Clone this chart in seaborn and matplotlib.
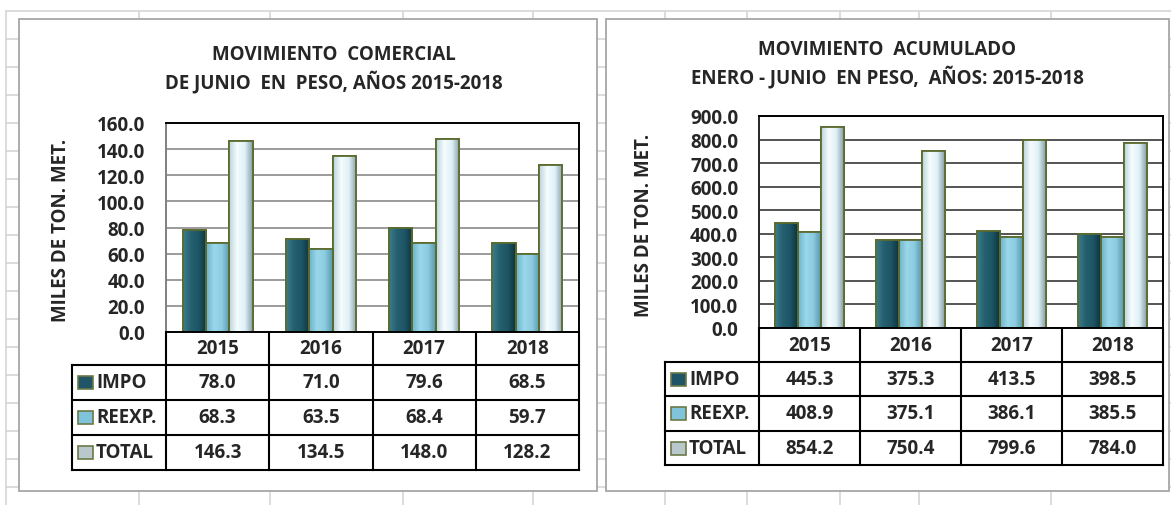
import numpy as np
import pandas as pd
import matplotlib.pyplot as plt
import seaborn as sns
from matplotlib.patches import Rectangle
from matplotlib.colors import LinearSegmentedColormap

# Datos
anios = ["2015", "2016", "2017", "2018"]
series = ["IMPO", "REEXP.", "TOTAL"]

junio_impo = [78.0, 71.0, 79.6, 68.5]
junio_reexp = [68.3, 63.5, 68.4, 59.7]
junio_total = [146.3, 134.5, 148.0, 128.2]

acum_impo = [445.3, 375.3, 413.5, 398.5]
acum_reexp = [408.9, 375.1, 386.1, 385.5]
acum_total = [854.2, 750.4, 799.6, 784.0]

# Estilo
sns.set_style("white")
plt.rcParams["font.family"] = ["Open Sans", "DejaVu Sans"]
plt.rcParams["font.weight"] = "bold"
FS = 13.5

W, H = 1171, 506
OLIVA = "#5b6b2f"
colores = {"IMPO": "#215a69", "REEXP.": "#8fd0e6", "TOTAL": "#e6f4f8"}
gradientes = {
    "IMPO": ["#3c7c8c", "#25606f", "#1d5565", "#0e333d"],
    "REEXP.": ["#6cb2c8", "#9ad7ea", "#8ccbe0", "#5798ad"],
    "TOTAL": ["#b9d3db", "#f6fcfe", "#dff1f7", "#869ea7"],
}
claves = {"IMPO": "#1f5566", "REEXP.": "#7fc4da", "TOTAL": "#b8c8cc"}

fig = plt.figure(figsize=(W / 100, H / 100), dpi=100)

# fondo tipo hoja de calculo
bg = fig.add_axes([0, 0, 1, 1])
bg.set_xlim(0, W)
bg.set_ylim(H, 0)
bg.axis("off")
for y in np.arange(12, H, 28):
    bg.plot([6, W], [y, y], color="#d6d6d6", lw=1.2, zorder=0)
for x in [6, 139, 270, 403, 533, 665, 747, 840, 919, 1051]:
    bg.plot([x, x], [12, H], color="#d6d6d6", lw=1.2, zorder=0)
for x0, x1 in [(19, 597), (606, 1169)]:
    bg.add_patch(Rectangle((x0, 20), x1 - x0, 472, facecolor="white",
                           edgecolor="#a6a6a6", lw=1.3, zorder=1))


def px_axes(left, top, right, bottom):
    return fig.add_axes([left / W, 1 - bottom / H, (right - left) / W, (bottom - top) / H])


def texto(x, y, s, **kw):
    return bg.text(x, y, s, fontsize=FS, fontweight="bold", zorder=4, **kw)


def panel(valores, titulo1, titulo2, tit_x, tit_y, ylab_x, box, ymax, paso, grid_color, lineas):
    lab_left, left, top, right, bottom = box
    df = pd.DataFrame({
        "anio": anios * 3,
        "serie": [s for s in series for _ in anios],
        "valor": valores[0] + valores[1] + valores[2],
    })
    ax = px_axes(left, top, right, bottom)
    sns.barplot(data=df, x="anio", y="valor", hue="serie", hue_order=series,
                palette=colores, width=0.68, saturation=1, legend=False,
                edgecolor=OLIVA, linewidth=1.2, ax=ax)

    # sombreado tipo bisel
    for cont, s in zip(ax.containers, series):
        cmap = LinearSegmentedColormap.from_list(s, gradientes[s])
        for p in cont:
            x, w, h = p.get_x(), p.get_width(), p.get_height()
            im = ax.imshow(np.linspace(0, 1, 64).reshape(1, -1), cmap=cmap,
                           extent=[x, x + w, 0, h], aspect="auto", zorder=2.1)
            im.set_clip_path(p)
            ax.add_patch(Rectangle((x, 0), w, h, fill=False, edgecolor=OLIVA,
                                   lw=1.3, zorder=2.2))

    ax.set_xlim(-0.5, len(anios) - 0.5)
    ax.set_ylim(0, ymax)
    ax.set_yticks(np.arange(0, ymax + 1, paso))
    ax.yaxis.set_major_formatter(plt.FuncFormatter(lambda v, _: f"{v:.1f}"))
    ax.tick_params(axis="y", length=0, pad=15, labelsize=FS)
    for lab in ax.get_yticklabels():
        lab.set_fontweight("bold")
    ax.set_xticks([])
    ax.set_xlabel("")
    ax.set_ylabel("")
    ax.yaxis.grid(True, color=grid_color, lw=1.1)
    ax.set_axisbelow(True)
    for sp in ax.spines.values():
        sp.set_color("black")
        sp.set_linewidth(1.4)
    ax.spines["left"].set_color(grid_color)

    # titulos
    texto(tit_x, tit_y, titulo1, ha="center", va="center")
    texto(tit_x, tit_y + 27, titulo2, ha="center", va="center")
    texto(ylab_x, (top + bottom) / 2 + 2, "MILES DE TON. MET.", rotation=90,
          ha="center", va="center")

    # tabla de datos
    bordes = np.linspace(left, right, len(anios) + 1)
    kw = dict(color="black", lw=1.5, zorder=3, solid_capstyle="projecting")
    y_head, y_fin = lineas[1], lineas[-1]
    for x in bordes:
        bg.plot([x, x], [lineas[0], y_fin], **kw)
    bg.plot([lab_left, lab_left], [y_head, y_fin], **kw)
    for y in lineas[1:]:
        bg.plot([lab_left, right], [y, y], **kw)
    for i, a in enumerate(anios):
        xc = (bordes[i] + bordes[i + 1]) / 2
        texto(xc, (lineas[0] + lineas[1]) / 2, a, ha="center", va="center")
        for j, s in enumerate(series):
            yc = (lineas[j + 1] + lineas[j + 2]) / 2
            texto(xc, yc, f"{valores[j][i]:.1f}", ha="center", va="center")
    for j, s in enumerate(series):
        yc = (lineas[j + 1] + lineas[j + 2]) / 2
        bg.add_patch(Rectangle((lab_left + 6, yc - 6.5), 15, 13,
                               facecolor=claves[s], edgecolor="#6b7a45",
                               lw=1.2, zorder=4))
        texto(lab_left + 24, yc, s, ha="left", va="center")
    return ax


panel([junio_impo, junio_reexp, junio_total],
      "MOVIMIENTO  COMERCIAL", "DE JUNIO  EN  PESO, AÑOS 2015-2018",
      334, 55, 61, (72, 166, 124, 579, 333), 160, 20, "#808080",
      [333, 366, 401, 436, 471])

panel([acum_impo, acum_reexp, acum_total],
      "MOVIMIENTO  ACUMULADO", "ENERO - JUNIO  EN PESO,  AÑOS: 2015-2018",
      887, 50, 644, (665, 759, 117, 1163, 329), 900, 100, "#262626",
      [329, 363, 397, 432, 466])

fig.savefig("out.png", dpi=100)
